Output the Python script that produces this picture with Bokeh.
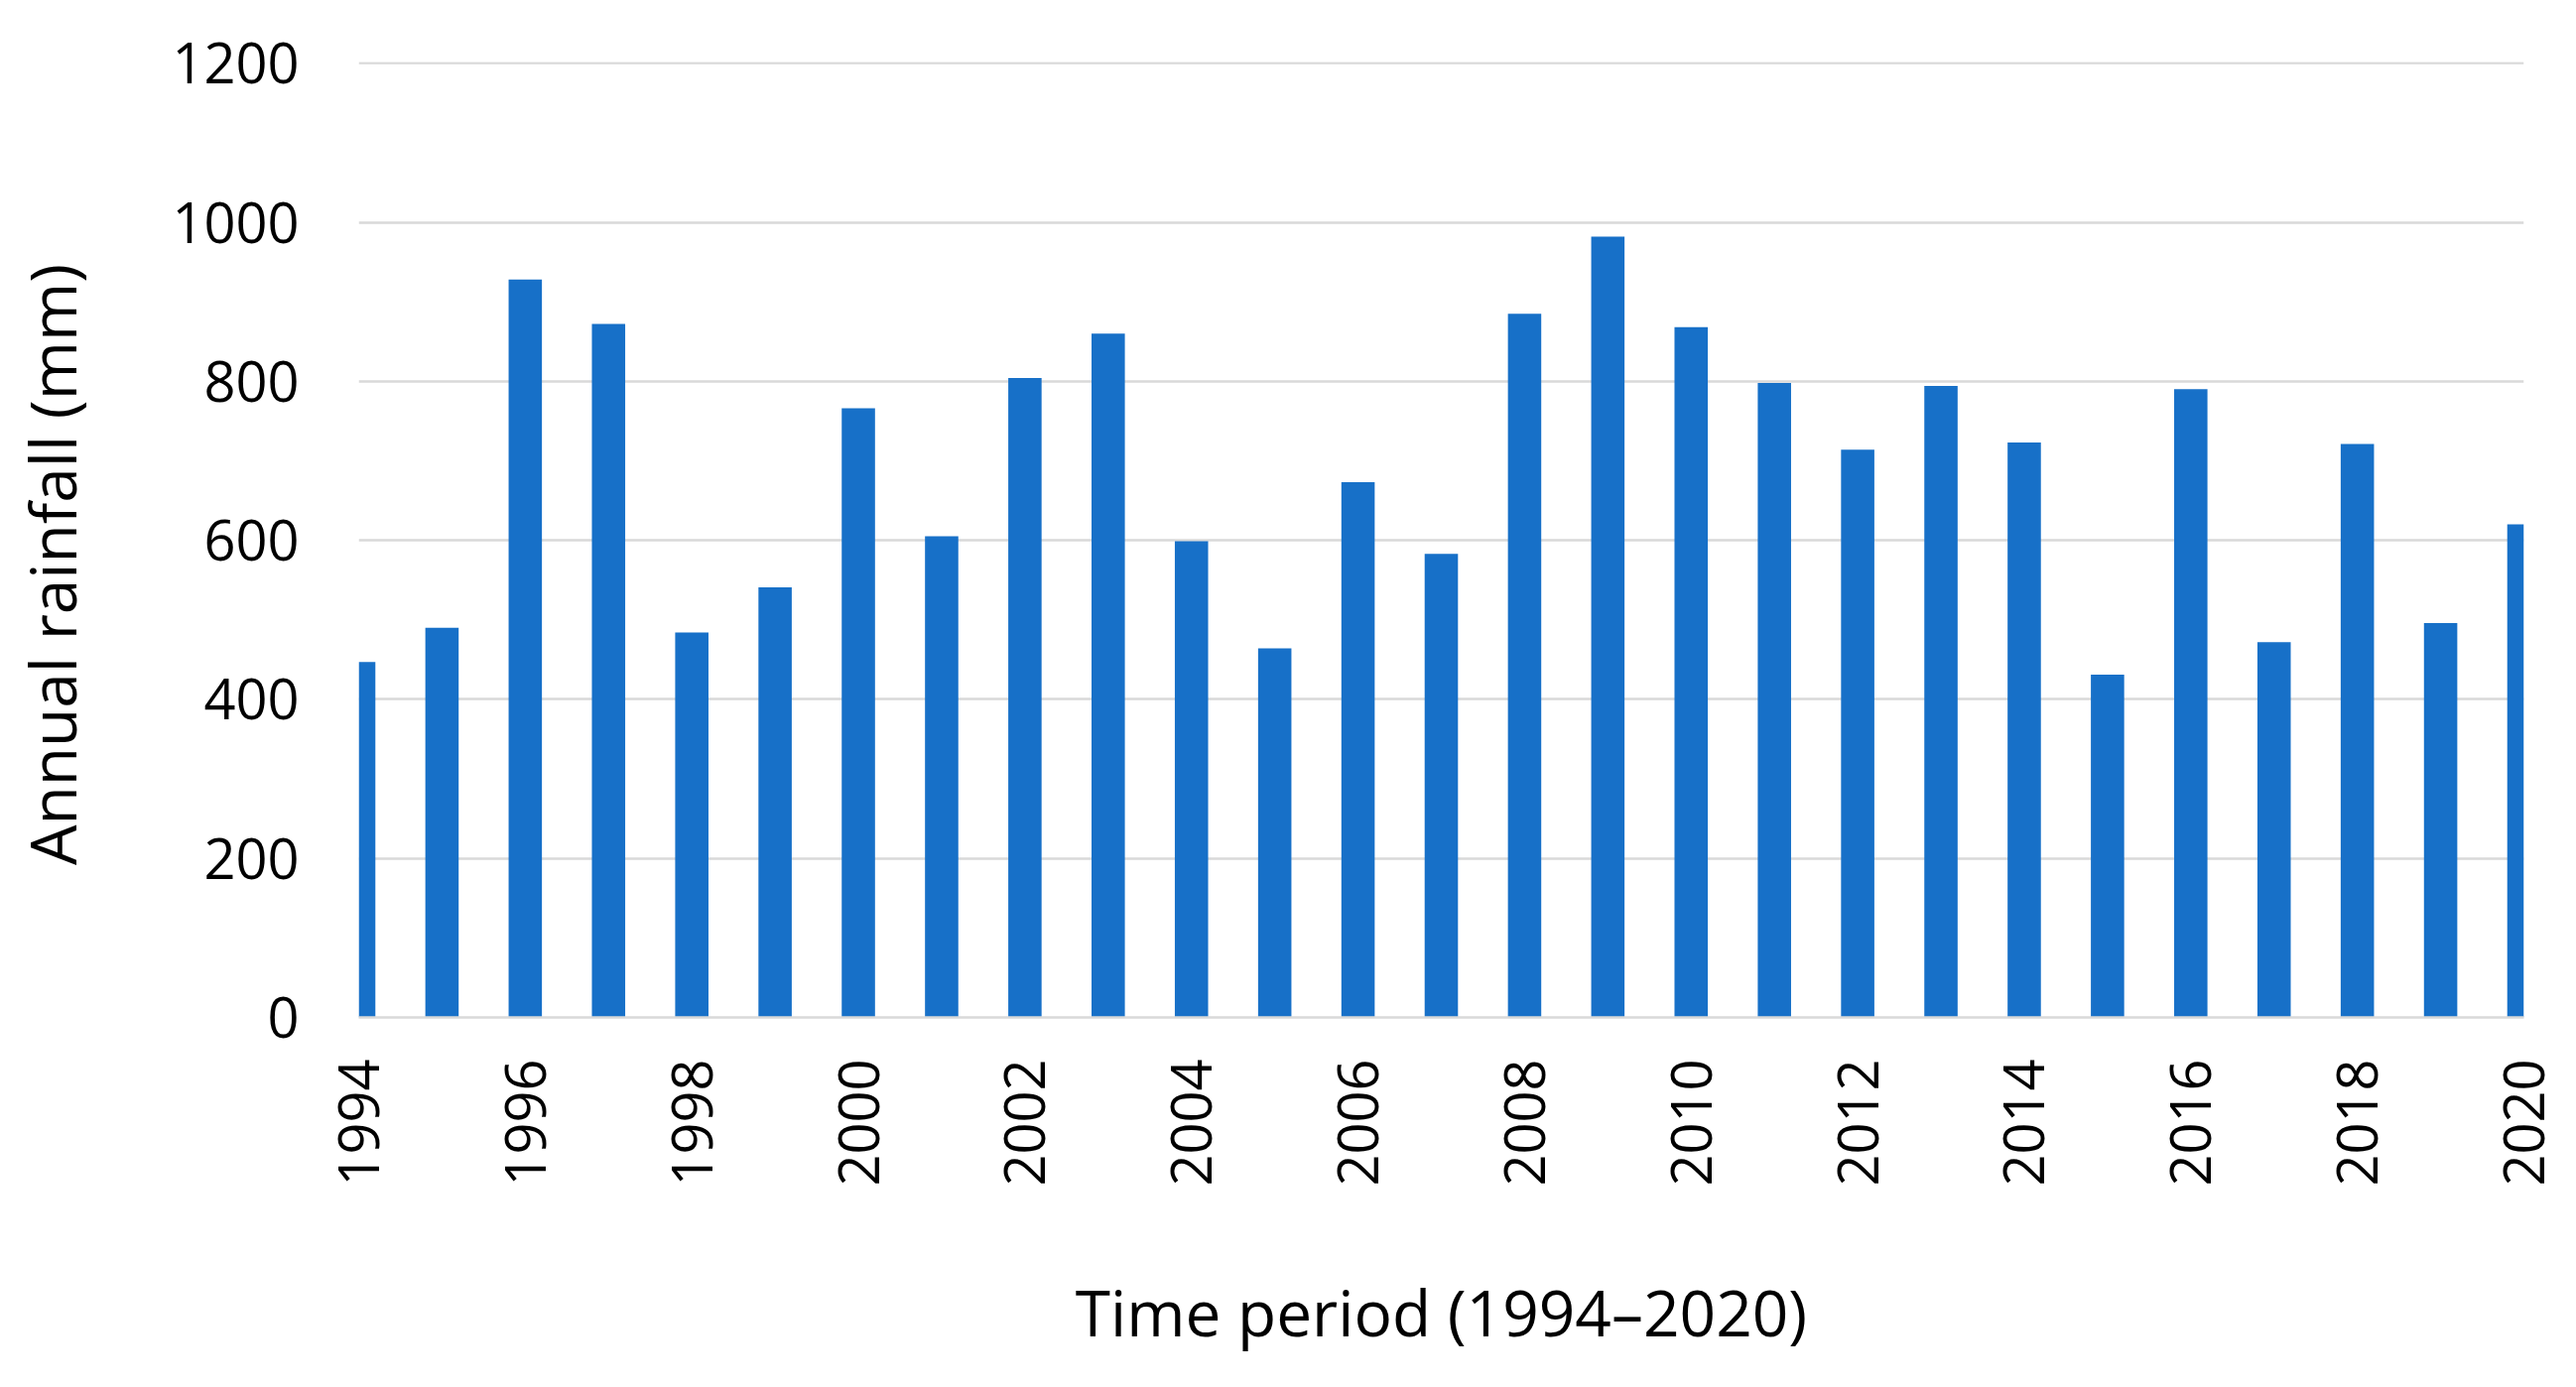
from math import pi
from bokeh.plotting import figure
from bokeh.models import Range1d, FixedTicker, ColumnDataSource
from bokeh.embed import file_html
from bokeh.resources import INLINE

years = [1994, 1995, 1996, 1997, 1998, 1999, 2000, 2001, 2002, 2003, 2004,
         2005, 2006, 2007, 2008, 2009, 2010, 2011, 2012, 2013, 2014, 2015,
         2016, 2017, 2018, 2019, 2020]
rainfall = [447, 490, 928, 872, 484, 541, 766, 605, 804, 860, 599,
            464, 673, 583, 885, 982, 868, 798, 714, 794, 723, 431,
            790, 472, 721, 496, 620]
x_tick_years = [1994, 1996, 1998, 2000, 2002, 2004, 2006, 2008, 2010,
                2012, 2014, 2016, 2018, 2020]
y_ticks = [0, 200, 400, 600, 800, 1000, 1200]

x_title = "Time period (1994\u20132020)"
y_title = "Annual rainfall (mm)"

FONT = "Open Sans"
BAR_COLOR = "#1770c8"
GRID_COLOR = "#d9d9d9"

W, H = 2584, 1382
BL, BR, BT, BB = 361, 41, 62, 357
y_top = 1201.5

src = ColumnDataSource(dict(year=years, rain=rainfall))

p = figure(width=W, height=H, output_backend="svg", toolbar_location=None,
           x_range=Range1d(years[0], years[-1]), y_range=Range1d(0, y_top),
           min_border_left=BL, min_border_right=BR, min_border_top=BT,
           min_border_bottom=BB)

p.vbar(x="year", top="rain", width=0.4, source=src, fill_color=BAR_COLOR,
       line_color=None)

p.outline_line_color = None
p.background_fill_color = "white"
p.border_fill_color = "white"

p.xgrid.grid_line_color = None
p.ygrid.grid_line_color = GRID_COLOR
p.ygrid.grid_line_width = 2.5

p.xaxis.ticker = FixedTicker(ticks=x_tick_years)
p.yaxis.ticker = FixedTicker(ticks=y_ticks)

for ax in (p.xaxis[0], p.yaxis[0]):
    ax.major_tick_line_color = None
    ax.minor_tick_line_color = None
    ax.major_tick_out = 0
    ax.major_tick_in = 0
    ax.major_label_text_font = FONT
    ax.major_label_text_font_size = "56px"
    ax.major_label_text_color = "black"
    ax.axis_label_text_font = FONT
    ax.axis_label_text_font_size = "64px"
    ax.axis_label_text_font_style = "normal"
    ax.axis_label_text_color = "black"

p.yaxis.axis_line_color = None
p.xaxis.axis_line_color = GRID_COLOR
p.xaxis.axis_line_width = 2.5

p.xaxis.major_label_orientation = pi / 2
p.xaxis.major_label_standoff = 42
p.yaxis.major_label_standoff = 60

p.xaxis.axis_label = x_title
p.xaxis.axis_label_standoff = 80

# trailing no-break spaces nudge the visible y title slightly below centre,
# as in the reference
p.yaxis.axis_label = y_title + "\u00a0" * 3
p.yaxis.axis_label_standoff = 74

open("out.html", "w").write(file_html(p, INLINE))
